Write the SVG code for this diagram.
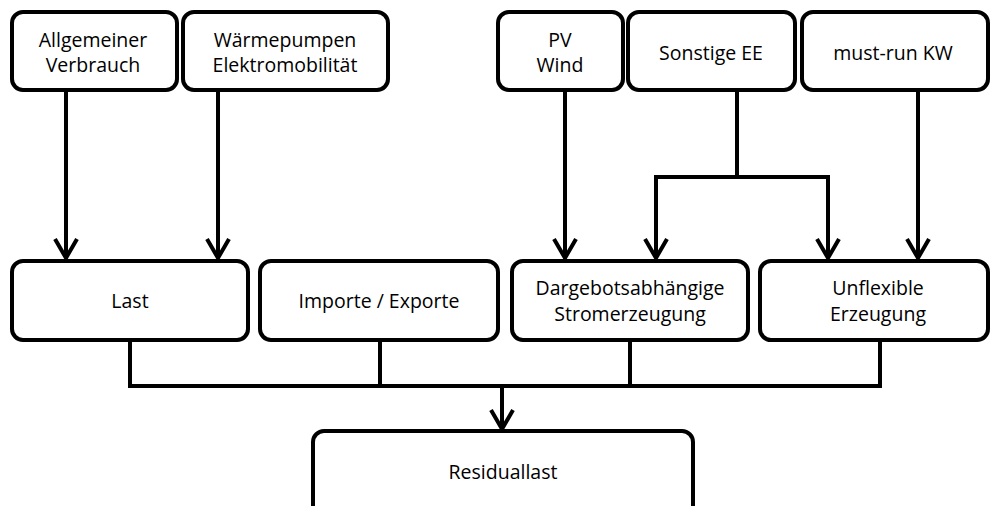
<svg xmlns="http://www.w3.org/2000/svg" width="990" height="506" viewBox="0 0 990 506">
  <style>
    .box { fill: #ffffff; stroke: #000000; stroke-width: 4; }
    .lbl { font-family: "Open Sans", "Liberation Sans", sans-serif; font-size: 19.5px; fill: #000000; text-anchor: middle; }
    .wire { fill: none; stroke: #000000; stroke-width: 4; stroke-linecap: square; stroke-linejoin: miter; }
    .arr { fill: none; stroke: #000000; stroke-width: 4; marker-end: url(#head); }
  </style>
  <defs>
    <marker id="head" markerUnits="userSpaceOnUse" markerWidth="30" markerHeight="30" viewBox="-24 -15 30 30" refX="0" refY="0" orient="auto" overflow="visible">
      <path d="M -19 -11 L 0 0 L -19 11" fill="none" stroke="#000000" stroke-width="4" stroke-linejoin="miter"/>
    </marker>
  </defs>
  <rect width="990" height="506" fill="#ffffff"/>

  <!-- connectors -->
  <g id="connectors">
    <line class="arr" x1="66" y1="90" x2="66" y2="258"/>
    <line class="arr" x1="218" y1="90" x2="218" y2="258"/>
    <line class="arr" x1="565" y1="90" x2="565" y2="258"/>
    <line class="arr" x1="918" y1="90" x2="918" y2="258"/>
    <path class="wire" d="M 737 90 V 177 M 656 177 H 828"/>
    <line class="arr" x1="656" y1="177" x2="656" y2="258"/>
    <line class="arr" x1="828" y1="177" x2="828" y2="258"/>
    <path class="wire" d="M 130 340 V 386 H 880 V 340 M 380 340 V 386 M 630 340 V 386"/>
    <line class="arr" x1="502" y1="386" x2="502" y2="429"/>
  </g>

  <!-- top row -->
  <g id="allgemeiner-verbrauch">
    <rect class="box" x="12" y="12" width="165" height="78" rx="11"/>
    <text class="lbl" x="93" y="47">Allgemeiner</text>
    <text class="lbl" x="93" y="72">Verbrauch</text>
  </g>
  <g id="waermepumpen">
    <rect class="box" x="183" y="12" width="205" height="78" rx="11"/>
    <text class="lbl" x="285" y="47">Wärmepumpen</text>
    <text class="lbl" x="285" y="72">Elektromobilität</text>
  </g>
  <g id="pv-wind">
    <rect class="box" x="498" y="12" width="125" height="78" rx="11"/>
    <text class="lbl" x="560" y="47">PV</text>
    <text class="lbl" x="560" y="72">Wind</text>
  </g>
  <g id="sonstige-ee">
    <rect class="box" x="628" y="12" width="167" height="78" rx="11"/>
    <text class="lbl" x="711" y="60">Sonstige EE</text>
  </g>
  <g id="must-run">
    <rect class="box" x="802" y="12" width="186" height="78" rx="11"/>
    <text class="lbl" x="893" y="60">must-run KW</text>
  </g>

  <!-- middle row -->
  <g id="last">
    <rect class="box" x="12" y="261" width="236" height="79" rx="11"/>
    <text class="lbl" x="130" y="308">Last</text>
  </g>
  <g id="importe-exporte">
    <rect class="box" x="260" y="261" width="238" height="79" rx="11"/>
    <text class="lbl" x="379" y="308">Importe / Exporte</text>
  </g>
  <g id="dargebotsabhaengig">
    <rect class="box" x="512" y="261" width="236" height="79" rx="11"/>
    <text class="lbl" x="630" y="295">Dargebotsabhängige</text>
    <text class="lbl" x="630" y="321">Stromerzeugung</text>
  </g>
  <g id="unflexibel">
    <rect class="box" x="760" y="261" width="228" height="79" rx="11"/>
    <text class="lbl" x="878" y="295">Unflexible</text>
    <text class="lbl" x="878" y="321">Erzeugung</text>
  </g>

  <!-- bottom -->
  <g id="residuallast">
    <rect class="box" x="313" y="431" width="380" height="100" rx="11"/>
    <text class="lbl" x="503" y="479">Residuallast</text>
  </g>
</svg>
